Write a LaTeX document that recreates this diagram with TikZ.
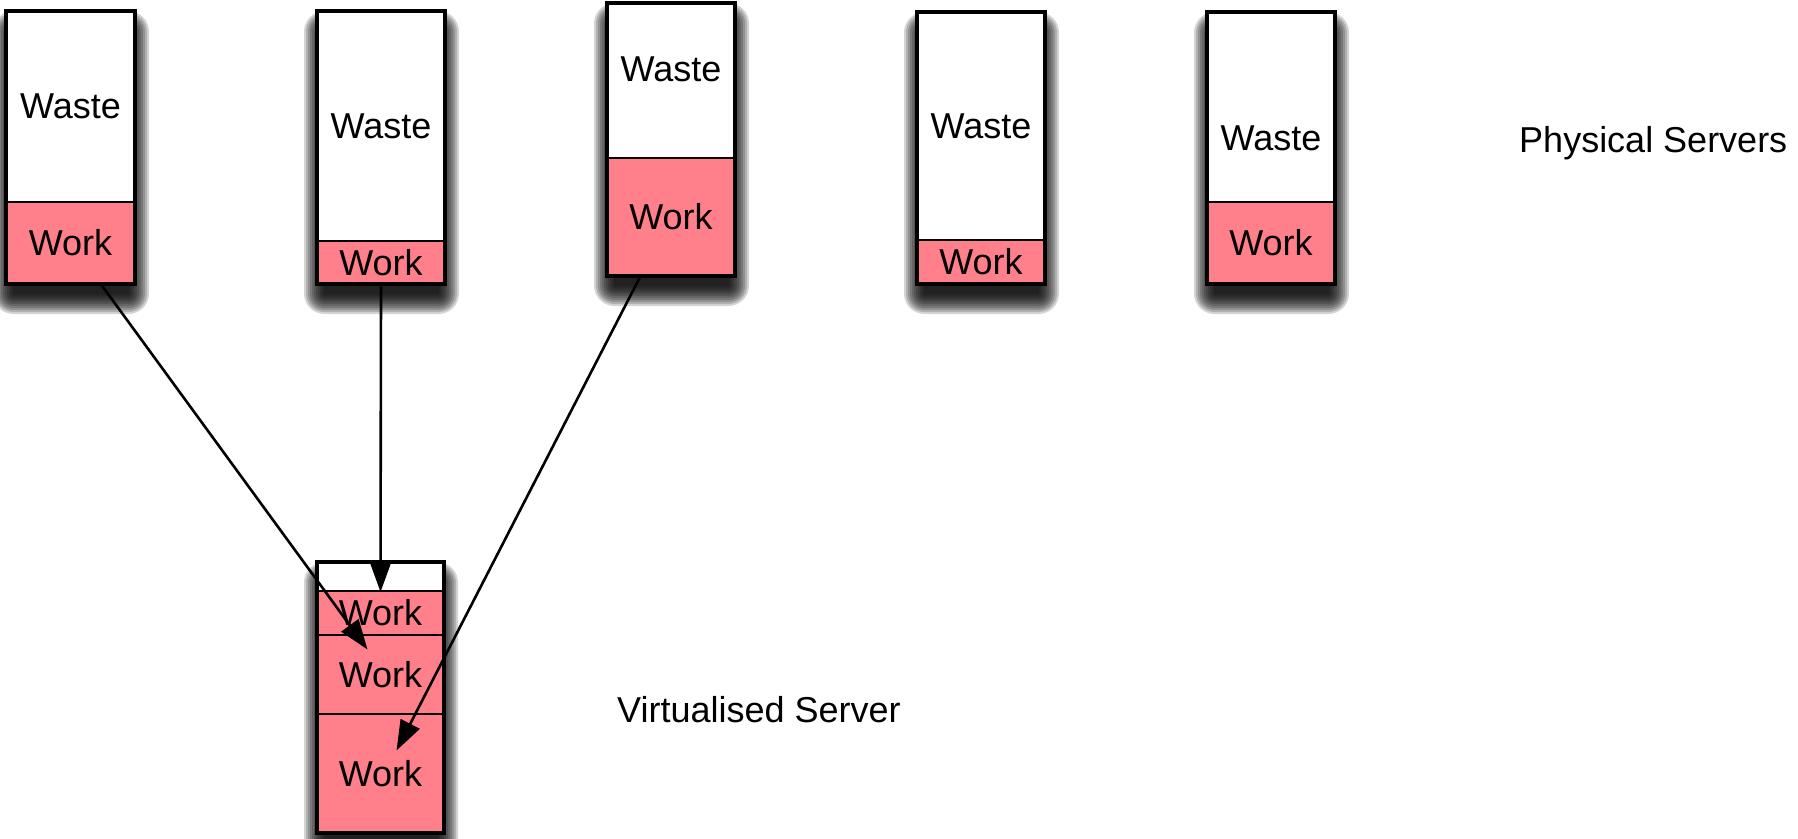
\documentclass[tikz,border=0pt]{standalone}
\usepackage{fontspec}
\setmainfont{Liberation Sans}
\usetikzlibrary{arrows.meta}
\definecolor{workpink}{RGB}{255,128,138}
\tikzset{
  cell/.style={draw=black, line width=2pt, inner sep=0pt, font=\fontsize{36}{40}\selectfont},
  wastecell/.style={cell, fill=white},
  workcell/.style={cell, fill=workpink},
  shadowlayer/.style={fill=black, fill opacity=0.17},
  border/.style={draw=black, line width=3.4pt},
  caption/.style={font=\fontsize{36}{40}\selectfont, inner sep=0pt, anchor=base west},
  celltext/.style={font=\fontsize{36}{40}\selectfont, inner sep=0pt},
  flow/.style={draw=black, line width=2.6pt,
      -{Triangle[length=30pt,width=21pt,color=black,fill=black]}}
}
% #1 name, #2 style, #3 left, #4 right, #5 top, #6 bottom, #7 text
\newcommand\servercell[7]{%
  \node[#2, minimum width={(#4-#3)*1pt}, minimum height={(#6-#5)*1pt}]
    (#1) at ({(#3+#4)/2},{(#5+#6)/2}) {#7};}
% soft drop shadow built from stacked translucent layers
% #1 left, #2 right, #3 top, #4 bottom
\newcommand\servercasing[4]{%
  \foreach \k in {0,2,...,20}{%
    \path[shadowlayer, rounded corners={\k*1pt+0.5pt}]
      ({#1+7-\k},{#3+20-\k}) rectangle ({#2-6+\k},{#4+10+\k});}}
\newcommand\serverborder[4]{\path[border] (#1,#3) rectangle (#2,#4);}
\begin{document}
\begin{tikzpicture}[x=1pt,y=-1pt]
\useasboundingbox (0,0) rectangle (1798,838);

% physical server 1
\servercasing{6}{135}{11}{284}
\servercell{a1}{wastecell}{6}{135}{11}{202}{Waste}
\servercell{w1}{workcell}{6}{135}{202}{284}{Work}
\serverborder{6}{135}{11}{284}

% physical server 2
\servercasing{317}{445}{11}{284}
\servercell{a2}{wastecell}{317}{445}{11}{241}{Waste}
\servercell{w2}{workcell}{317}{445}{241}{284}{Work}
\serverborder{317}{445}{11}{284}

% physical server 3
\servercasing{607}{735}{3}{276}
\servercell{a3}{wastecell}{607}{735}{3}{158}{}
\servercell{w3}{workcell}{607}{735}{158}{276}{Work}
\serverborder{607}{735}{3}{276}
\node[celltext] (a3t) at ([yshift=11pt]a3.center) {Waste};

% physical server 4
\servercasing{917}{1045}{12}{284}
\servercell{a4}{wastecell}{917}{1045}{12}{240}{Waste}
\servercell{w4}{workcell}{917}{1045}{240}{284}{Work}
\serverborder{917}{1045}{12}{284}

% physical server 5
\servercasing{1207}{1335}{12}{284}
\servercell{a5}{wastecell}{1207}{1335}{12}{202}{}
\servercell{w5}{workcell}{1207}{1335}{202}{284}{Work}
\serverborder{1207}{1335}{12}{284}
\node[celltext] (a5t) at ([yshift=-31pt]a5.center) {Waste};

% virtualised server
\servercasing{317}{444}{562}{833}
\servercell{v0}{wastecell}{317}{444}{562}{591}{}
\servercell{v1}{workcell}{317}{444}{591}{635}{Work}
\servercell{v2}{workcell}{317}{444}{635}{714}{Work}
\servercell{v3}{workcell}{317}{444}{714}{833}{Work}
\serverborder{317}{444}{562}{833}

% captions
\node[caption] (phys) at (1519,152) {Physical Servers};
\node[caption] (virt) at (617,722) {Virtualised Server};

% workloads moved onto the virtualised server
\draw[flow] ([xshift=31pt]w1.south) -- ([xshift=-13pt,yshift=25pt]v2.center);
\draw[flow] (w2.south) -- (v0.south);
\draw[flow] ([xshift=-31pt]w3.south) -- ([xshift=16pt,yshift=23pt]v3.center);
\end{tikzpicture}
\end{document}
